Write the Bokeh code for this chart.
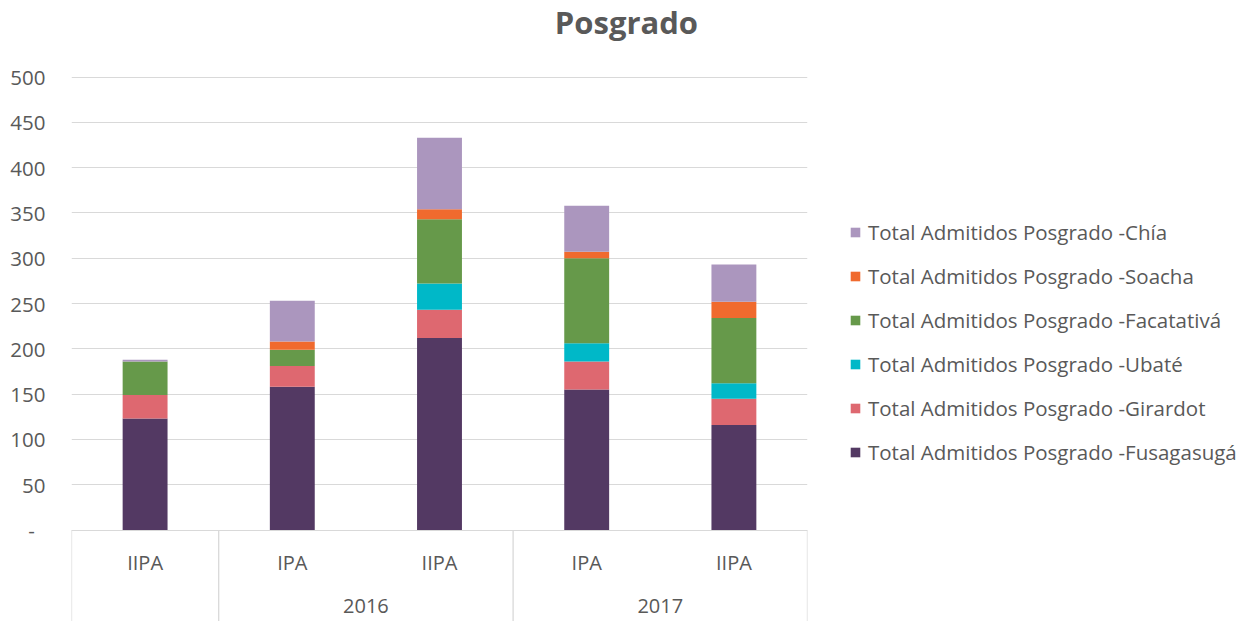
from bokeh.plotting import figure
from bokeh.models import ColumnDataSource, Range1d, FixedTicker, Legend, LegendItem, Label
from bokeh.core.properties import value
from bokeh.embed import file_html
from bokeh.resources import INLINE

# ---- data ----
periods = ["IIPA", "IPA", "IIPA", "IPA", "IIPA"]
years = ["", "2016", "2016", "2017", "2017"]
series = ["Fusagasugá", "Girardot", "Ubaté", "Facatativá", "Soacha", "Chía"]
fusagasuga = [123, 158, 212, 155, 116]
girardot = [26, 23, 31, 31, 29]
ubate = [0, 0, 29, 20, 17]
facatativa = [37, 18, 71, 94, 72]
soacha = [0, 9, 11, 7, 18]
chia = [2, 45, 79, 51, 41]
y_ticks = [0, 50, 100, 150, 200, 250, 300, 350, 400, 450, 500]
title_text = "Posgrado"

colors = ["#533963", "#de6870", "#00b8c8", "#66994a", "#f06a2e", "#ab96be"]
FONT = "Open Sans"
GREY = "#595959"
GRID = "#d9d9d9"

n = len(periods)
xs = [i + 0.5 for i in range(n)]
data = dict(x=xs)
for name, vals in zip(series, [fusagasuga, girardot, ubate, facatativa, soacha, chia]):
    data[name] = vals
src = ColumnDataSource(data)

PPU = 0.906          # pixels per unit
FRAME_H = 621
TOP_PAD = 76.5       # pixels above the 500 line
Y_TOP = 500 + TOP_PAD / PPU
Y_BOTTOM = Y_TOP - FRAME_H / PPU
p = figure(frame_width=736, frame_height=FRAME_H, output_backend="svg", toolbar_location=None,
           x_range=Range1d(0, n), y_range=Range1d(Y_BOTTOM, Y_TOP),
           min_border_left=71, min_border_top=0, min_border_bottom=0, min_border_right=0)
p.outline_line_color = None
p.background_fill_color = "white"

renderers = p.vbar_stack(series, x="x", width=0.305, source=src, color=colors, line_color=None)

# grid / axes
p.xgrid.visible = False
p.xaxis.visible = False
p.ygrid.ticker = FixedTicker(ticks=y_ticks)
p.ygrid.grid_line_color = GRID
p.yaxis.ticker = FixedTicker(ticks=y_ticks)
p.yaxis.major_label_overrides = {0: "-\u00a0\u00a0"}
p.yaxis.axis_line_color = None
p.yaxis.major_tick_line_color = None
p.yaxis.minor_tick_line_color = None
p.yaxis.major_tick_out = 0
p.yaxis.major_label_standoff = 26
p.yaxis.major_label_text_font = FONT
p.yaxis.major_label_text_font_size = "20.5px"
p.yaxis.major_label_text_color = GREY

# category axis boxes (group boundaries)
bounds = [0]
for i in range(1, n):
    if years[i] != years[i - 1]:
        bounds.append(i)
bounds.append(n)
p.segment(x0=bounds, x1=bounds, y0=[0] * len(bounds), y1=[Y_BOTTOM] * len(bounds),
          line_color=GRID, line_width=1.3)

p.text(x=xs, y=[-36.4] * n, text=periods, text_font=value(FONT), text_font_size="20px",
       text_color=GREY, text_align="center", text_baseline="middle")

gx, gt = [], []
for a, b in zip(bounds[:-1], bounds[1:]):
    if years[a]:
        gx.append((a + b) / 2)
        gt.append(years[a])
p.text(x=gx, y=[-84] * len(gx), text=gt, text_font=value(FONT), text_font_size="20px",
       text_color=GREY, text_align="center", text_baseline="middle")

# title (centred over the whole chart, above the plot area)
p.add_layout(Label(x=3.77, y=500 + 55 / PPU, text=title_text,
                   text_font=FONT, text_font_size="31px", text_font_style="bold",
                   text_color=GREY, text_align="center", text_baseline="middle"))

# legend
items = [LegendItem(label="Total Admitidos Posgrado -" + s, renderers=[r])
         for s, r in zip(series, renderers)][::-1]
legend = Legend(items=items, location=(42, 155), margin=0, padding=0,
                border_line_color=None, background_fill_alpha=0,
                label_text_font=FONT, label_text_font_size="20.5px", label_text_color=GREY,
                glyph_width=12, glyph_height=12, label_standoff=7, spacing=16, label_height=20)
p.add_layout(legend, "right")

open("out.html", "w").write(file_html(p, INLINE))
